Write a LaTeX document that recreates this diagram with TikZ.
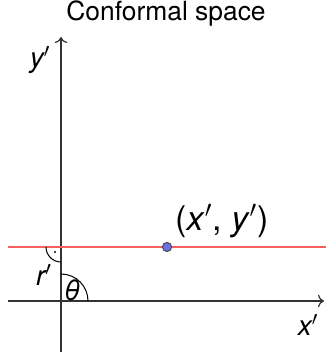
\documentclass[tikz,border=0pt]{standalone}
\usepackage{fontspec}
\setmainfont{TeX Gyre Heros}
\usetikzlibrary{positioning, arrows.meta, calc}
\definecolor{lineRed}{RGB}{250,95,95}
\definecolor{ptBlue}{RGB}{110,110,230}

\begin{document}
\begin{tikzpicture}[
  x=0.5pt, y=0.5pt,
  axis/.style={draw=black!80, line width=0.6pt, -{To[length=3pt]}},
  lbl/.style={font=\fontsize{14}{16}\selectfont\itshape, inner sep=0pt},
]
  \useasboundingbox (0,0) rectangle (326,352);
  \coordinate (O) at (61,51);
  \coordinate (xs) at (8,51);
  \coordinate (xe) at (324,51);
  \coordinate (ys) at (61,0);
  \coordinate (ye) at (61,315);
  \coordinate (ls) at (8,105);
  \coordinate (le) at (326,105);
  \coordinate (R) at (61,105);
  \draw[axis] (xs) -- (xe);
  \draw[axis] (ys) -- (ye);
  \draw[lineRed, line width=1.4pt] (ls) -- (le);
  % angle marks
  \draw[line width=0.5pt] ($(O)+(27,0)$) arc[start angle=0, end angle=90, radius=27];
  \draw[line width=0.5pt] ($(R)+(-15,0)$) arc[start angle=180, end angle=270, radius=15];
  \fill ($(R)+(-6,-5)$) circle[radius=1.1];
  \node[circle, draw=black!70, fill=ptBlue, inner sep=0pt, minimum size=4.6pt, line width=0.5pt] (P) at (167,105) {};
  \node[lbl, font=\fontsize{17}{19}\selectfont] (pl) at (222,131) {(\textit{x}$'$, \textit{y}$'$)};
  \node[font=\fontsize{13.2}{15}\selectfont, inner sep=0pt] (title) at (166,338) {Conformal space};
  \node[lbl] (yl) at (40,292) {y$'$};
  \node[lbl] (xl) at (308,27) {x$'$};
  \node[lbl] (rl) at (44,77) {r$'$};
  \node[lbl] (th) at (72,62) {θ};
\end{tikzpicture}
\end{document}
